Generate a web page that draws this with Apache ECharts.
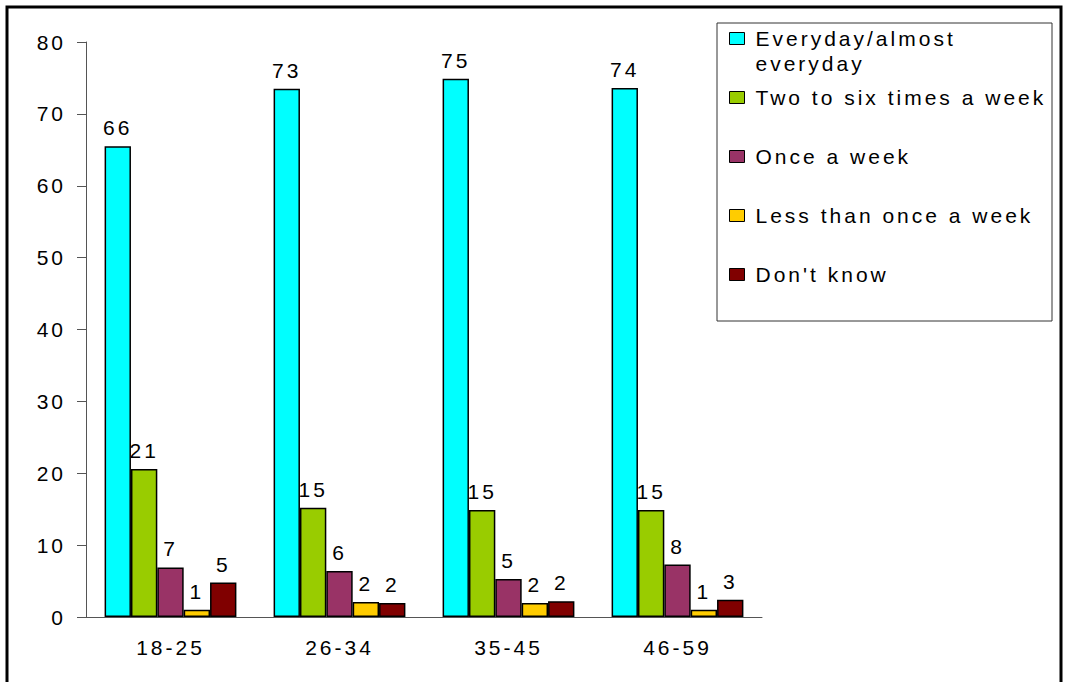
<!DOCTYPE html>
<html>
<head>
<meta charset="utf-8">
<script src="https://cdn.jsdelivr.net/npm/echarts@6/dist/echarts.min.js"></script>
<style>
  html, body { margin: 0; padding: 0; background: #fff; }
  #chart { width: 1066px; height: 682px; }
  /* the original text is drawn wide, spread the letters a bit */
  #chart svg text { letter-spacing: 3px; }
</style>
</head>
<body>
<div id="chart"></div>
<script>
// age groups
var categories = ['18-25', '26-34', '35-45', '46-59']
var seriesNames = ['Everyday/almost\neveryday', 'Two to six times a week', 'Once a week', 'Less than once a week', "Don't know"]
var yTicks = [0, 10, 20, 30, 40, 50, 60, 70, 80]

// bar heights
var everyday = [65.5, 73.5, 74.9, 73.6]
var twoToSix = [20.6, 15.2, 14.9, 14.9]
var onceWeek = [6.9, 6.4, 5.3, 7.3]
var lessOnce = [1.0, 2.1, 1.95, 1.0]
var dontKnow = [4.8, 1.95, 2.2, 2.4]

// printed labels
var everydayLbl = [66, 73, 75, 74]
var twoToSixLbl = [21, 15, 15, 15]
var onceWeekLbl = [7, 6, 5, 8]
var lessOnceLbl = [1, 2, 2, 1]
var dontKnowLbl = [5, 2, 2, 3]

var colors = ['#00FFFF', '#99CC00', '#993366', '#FFCC00', '#800000']
var font = 'Liberation Sans, Arial, sans-serif'

var values = [everyday, twoToSix, onceWeek, lessOnce, dontKnow]
var labels = [everydayLbl, twoToSixLbl, onceWeekLbl, lessOnceLbl, dontKnowLbl]

var myChart = echarts.init(document.getElementById('chart'), null, { renderer: 'svg' })

var series = values.map(function (v, i) {
  return {
    name: seriesNames[i],
    type: 'bar',
    data: v,
    barGap: 0,
    barCategoryGap: '22%',
    itemStyle: {
      color: colors[i],
      borderColor: '#000',
      borderWidth: 1.5
    },
    label: {
      show: true,
      position: 'top',
      distance: 8,
      fontFamily: font,
      fontSize: 21,
      color: '#000',
      formatter: function (p) {
        return labels[i][p.dataIndex]
      }
    }
  }
})

var legendText = {
  fontFamily: font,
  fontSize: 21,
  lineHeight: 25,
  padding: [0, 0, 0, 6],
  color: '#000'
}

myChart.setOption({
  animation: false,
  grid: {
    left: 86,
    right: 304,
    top: 42,
    bottom: 65
  },
  legend: [{
    orient: 'vertical',
    left: 729,
    top: 1,
    padding: 0,
    icon: 'rect',
    itemWidth: 15,
    itemHeight: 12,
    itemStyle: { borderColor: '#000', borderWidth: 1 },
    data: [seriesNames[0]],
    // blank first line so the icon sits next to the first text line
    formatter: function (name) {
      return '\n' + name
    },
    textStyle: legendText
  }, {
    orient: 'vertical',
    left: 729,
    top: 85,
    padding: 0,
    icon: 'rect',
    itemWidth: 15,
    itemHeight: 12,
    itemGap: 34,
    itemStyle: { borderColor: '#000', borderWidth: 1 },
    data: seriesNames.slice(1),
    textStyle: legendText
  }],
  graphic: [{
    type: 'rect',
    shape: { x: 717, y: 23, width: 335, height: 298 },
    style: { fill: 'none', stroke: '#333', lineWidth: 1 },
    silent: true
  }, {
    type: 'rect',
    shape: { x: 7, y: 7, width: 1054, height: 690 },
    style: { fill: 'none', stroke: '#000', lineWidth: 3 },
    silent: true
  }],
  xAxis: {
    type: 'category',
    data: categories,
    axisLine: { lineStyle: { color: '#555', width: 1 } },
    axisTick: { length: 8, lineStyle: { color: '#555' } },
    axisLabel: {
      margin: 20,
      fontFamily: font,
      fontSize: 21,
      color: '#000'
    }
  },
  yAxis: {
    type: 'value',
    min: yTicks[0],
    max: yTicks[yTicks.length - 1],
    interval: 10,
    splitLine: { show: false },
    axisLine: { show: true, lineStyle: { color: '#555', width: 1 } },
    axisTick: { show: true, length: 9, lineStyle: { color: '#555' } },
    axisLabel: {
      margin: 20,
      fontFamily: font,
      fontSize: 21,
      color: '#000'
    }
  },
  series: series
})
</script>
</body>
</html>
